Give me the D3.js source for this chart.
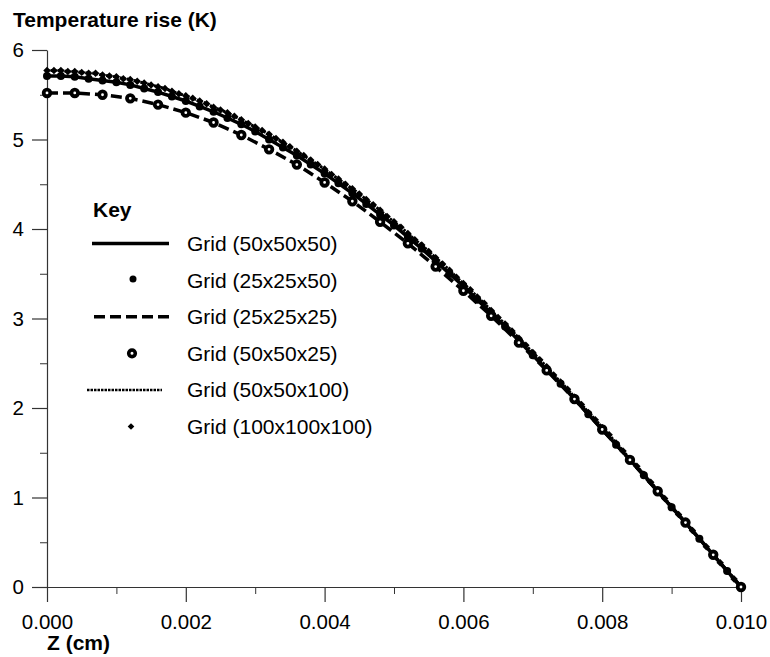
<!DOCTYPE html>
<html>
<head>
<meta charset="utf-8">
<script src="https://cdn.jsdelivr.net/npm/d3@7/dist/d3.min.js"></script>
<style>
body { margin: 0; background: #fff; }
svg text { font-family: "Liberation Sans", Arial, Helvetica, sans-serif; fill: #000; }
</style>
</head>
<body>
<svg id="chart" width="770" height="657"></svg>
<script>
// temperature rise (K) along Z, one array per z-resolution of the grid
var tempZ25 = [5.52, 5.52, 5.50, 5.46, 5.39, 5.30, 5.19, 5.05, 4.89, 4.72,
  4.52, 4.31, 4.08, 3.84, 3.58, 3.31, 3.03, 2.73, 2.42, 2.10,
  1.76, 1.42, 1.07, 0.72, 0.36, 0.00];

var tempZ50 = [5.71, 5.71, 5.70, 5.68, 5.66, 5.64, 5.61, 5.57, 5.53, 5.48,
  5.43, 5.37, 5.31, 5.24, 5.17, 5.09, 5.00, 4.91, 4.82, 4.72,
  4.62, 4.51, 4.40, 4.28, 4.16, 4.04, 3.91, 3.78, 3.64, 3.50,
  3.36, 3.21, 3.06, 2.91, 2.75, 2.59, 2.43, 2.27, 2.10, 1.93,
  1.76, 1.59, 1.42, 1.25, 1.07, 0.89, 0.72, 0.54, 0.36, 0.18,
  0.00];

var tempZ100 = [5.77, 5.77, 5.77, 5.76, 5.76, 5.75, 5.74, 5.74, 5.72, 5.71,
  5.70, 5.68, 5.67, 5.65, 5.63, 5.61, 5.59, 5.57, 5.54, 5.51,
  5.49, 5.46, 5.43, 5.40, 5.36, 5.33, 5.30, 5.26, 5.22, 5.18,
  5.14, 5.10, 5.06, 5.01, 4.97, 4.92, 4.87, 4.82, 4.77, 4.72,
  4.67, 4.61, 4.56, 4.50, 4.45, 4.39, 4.33, 4.27, 4.21, 4.14,
  4.08, 4.02, 3.95, 3.88, 3.82, 3.75, 3.68, 3.61, 3.54, 3.46,
  3.39, 3.32, 3.24, 3.17, 3.09, 3.01, 2.94, 2.86, 2.78, 2.70,
  2.62, 2.54, 2.46, 2.37, 2.29, 2.21, 2.12, 2.04, 1.95, 1.87,
  1.78, 1.70, 1.61, 1.52, 1.43, 1.35, 1.26, 1.17, 1.08, 0.99,
  0.90, 0.81, 0.72, 0.63, 0.54, 0.45, 0.36, 0.27, 0.18, 0.09,
  0.00];

var seriesNames = ["Grid (50x50x50)", "Grid (25x25x50)", "Grid (25x25x25)",
  "Grid (50x50x25)", "Grid (50x50x100)", "Grid (100x100x100)"];

var zMax = 0.010;
var xMajor = [0, 0.002, 0.004, 0.006, 0.008, 0.010];
var xMinor = [0.001, 0.003, 0.005, 0.007, 0.009];
var yMajor = [0, 1, 2, 3, 4, 5, 6];
var yMinor = [0.5, 1.5, 2.5, 3.5, 4.5, 5.5];

var yTitle = "Temperature rise (K)";
var xTitle = "Z (cm)";
var keyTitle = "Key";

// helper: pair each value with its z node
function toPoints(vals) {
  var step = zMax / (vals.length - 1);
  return vals.map(function(v, i) { return { z: i * step, t: v }; });
}

var svg = d3.select("#chart");

var x = d3.scaleLinear().domain([0, zMax]).range([47, 741]);
var y = d3.scaleLinear().domain([0, 6]).range([587, 50]);

var axisColor = "#333";

// minor ticks first
svg.append("g")
  .attr("transform", "translate(0,587)")
  .call(d3.axisBottom(x).tickValues(xMinor).tickSize(7).tickSizeOuter(0).tickFormat(""))
  .call(function(g){ g.select(".domain").remove(); })
  .attr("color", axisColor);

svg.append("g")
  .attr("transform", "translate(47,0)")
  .call(d3.axisLeft(y).tickValues(yMinor).tickSize(7).tickSizeOuter(0).tickFormat(""))
  .call(function(g){ g.select(".domain").remove(); })
  .attr("color", axisColor);

var xAxis = svg.append("g")
  .attr("transform", "translate(0,587)")
  .call(d3.axisBottom(x).tickValues(xMajor).tickSize(15).tickSizeOuter(0)
    .tickPadding(12).tickFormat(d3.format(".3f")))
  .attr("color", axisColor);

var yAxis = svg.append("g")
  .attr("transform", "translate(47,0)")
  .call(d3.axisLeft(y).tickValues(yMajor).tickSize(15).tickSizeOuter(0)
    .tickPadding(8).tickFormat(d3.format("d")))
  .attr("color", axisColor);

[xAxis, yAxis].forEach(function(g) {
  g.attr("font-size", null).attr("font-family", null);
  g.selectAll("line, path").attr("stroke-width", 1.2);
  g.selectAll("text").style("font-size", "20.5px").attr("fill", "#000");
});

// axis titles
svg.append("text")
  .attr("x", 13).attr("y", 27)
  .style("font-size", "21px").style("font-weight", "bold")
  .text(yTitle);

svg.append("text")
  .attr("x", 47).attr("y", 650)
  .style("font-size", "21px").style("font-weight", "bold")
  .text(xTitle);

// series
var line = d3.line()
  .x(function(d){ return x(d.z); })
  .y(function(d){ return y(d.t); });

var pts25 = toPoints(tempZ25);
var pts50 = toPoints(tempZ50);
var pts100 = toPoints(tempZ100);

var plot = svg.append("g");

// Grid (50x50x100) - thin dotted line
plot.append("path").datum(pts100)
  .attr("d", line)
  .attr("fill", "none").attr("stroke", "#000")
  .attr("stroke-width", 3).attr("stroke-dasharray", "2.5,1");

// Grid (50x50x50) - solid line
plot.append("path").datum(pts50)
  .attr("d", line)
  .attr("fill", "none").attr("stroke", "#000").attr("stroke-width", 3.5);

// Grid (25x25x25) - dashed line
plot.append("path").datum(pts25)
  .attr("d", line)
  .attr("fill", "none").attr("stroke", "#000")
  .attr("stroke-width", 3.5).attr("stroke-dasharray", "11,5");

// Grid (25x25x50) - filled dots
plot.selectAll(".dot50").data(pts50).enter().append("circle")
  .attr("class", "dot50")
  .attr("cx", function(d){ return x(d.z); })
  .attr("cy", function(d){ return y(d.t); })
  .attr("r", 4).attr("fill", "#000");

// Grid (100x100x100) - diamonds
var diamond = d3.symbol().type(d3.symbolSquare).size(28);
plot.selectAll(".dia100").data(pts100).enter().append("path")
  .attr("class", "dia100")
  .attr("d", diamond)
  .attr("transform", function(d){ return "translate(" + x(d.z) + "," + y(d.t) + ") rotate(45)"; })
  .attr("fill", "#000");

// Grid (50x50x25) - open circles
plot.selectAll(".ring25").data(pts25).enter().append("circle")
  .attr("class", "ring25")
  .attr("cx", function(d){ return x(d.z); })
  .attr("cy", function(d){ return y(d.t); })
  .attr("r", 3.3).attr("fill", "#fff")
  .attr("stroke", "#000").attr("stroke-width", 3.8);

// legend
var legX = 93, legTextX = 187, legRow0 = 251, legGap = 36.6;
var legend = svg.append("g");

legend.append("text")
  .attr("x", legX).attr("y", 217)
  .style("font-size", "21px").style("font-weight", "bold")
  .text(keyTitle);

var rows = legend.selectAll(".row").data(seriesNames).enter().append("g")
  .attr("class", "row")
  .attr("transform", function(d, i){ return "translate(0," + (legRow0 + i * legGap) + ")"; });

rows.append("text")
  .attr("x", legTextX).attr("y", 0)
  .style("font-size", "21px")
  .text(function(d){ return d; });

rows.each(function(d, i) {
  var g = d3.select(this);
  var cy = -7.5;
  if (i == 0) {
    g.append("line").attr("x1", 92).attr("x2", 169).attr("y1", cy).attr("y2", cy)
      .attr("stroke", "#000").attr("stroke-width", 3.5);
  } else if (i == 1) {
    g.append("circle").attr("cx", 133).attr("cy", cy - 1).attr("r", 3.5).attr("fill", "#000");
  } else if (i == 2) {
    g.append("line").attr("x1", 94).attr("x2", 169).attr("y1", cy).attr("y2", cy)
      .attr("stroke", "#000").attr("stroke-width", 3.5).attr("stroke-dasharray", "11,5");
  } else if (i == 3) {
    g.append("circle").attr("cx", 132).attr("cy", cy).attr("r", 3.3)
      .attr("fill", "#fff").attr("stroke", "#000").attr("stroke-width", 3.6);
  } else if (i == 4) {
    g.append("line").attr("x1", 87).attr("x2", 162).attr("y1", cy).attr("y2", cy)
      .attr("stroke", "#000").attr("stroke-width", 2.5).attr("stroke-dasharray", "2.5,1");
  } else {
    g.append("path").attr("d", d3.symbol().type(d3.symbolSquare).size(22))
      .attr("transform", "translate(131," + cy + ") rotate(45)").attr("fill", "#000");
  }
});
</script>
</body>
</html>
